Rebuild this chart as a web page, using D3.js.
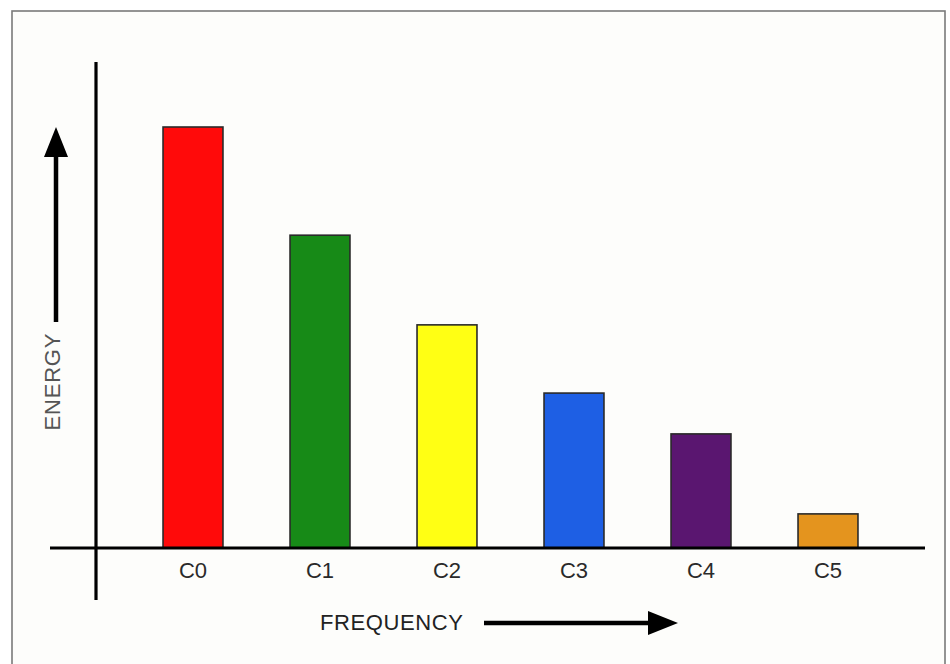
<!DOCTYPE html>
<html><head><meta charset="utf-8">
<script src="https://cdn.jsdelivr.net/npm/d3@7"></script>
<style>html,body{margin:0;padding:0;background:#fff;}svg{display:block;}</style>
</head><body>
<script>
const categories = ["C0","C1","C2","C3","C4","C5"];
const energy = [100, 74.3, 53, 36.8, 27.1, 8.1];
const barColors = ["#ff0a0a","#178a17","#ffff14","#1e5fe4","#5a1670","#e4941e"];
const xTitle = "FREQUENCY";
const yTitle = "ENERGY";

const W = 950, H = 664;
const svg = d3.select("body").append("svg").attr("width", W).attr("height", H);

// frame
svg.append("rect").attr("x", 12).attr("y", 11).attr("width", 933).attr("height", 700)
  .attr("fill", "#fdfdfb").attr("stroke", "#7a7a7a").attr("stroke-width", 1.6);

const x = d3.scaleBand().domain(categories).range([129.5, 891.5])
  .paddingInner(0.528).paddingOuter(0.264);
const y = d3.scaleLinear().domain([0, 100]).range([548, 127]);

// bars
svg.selectAll("rect.bar").data(categories).join("rect").attr("class", "bar")
  .attr("x", d => x(d)).attr("width", x.bandwidth())
  .attr("y", (d, i) => y(energy[i])).attr("height", (d, i) => y(0) - y(energy[i]))
  .attr("fill", (d, i) => barColors[i]).attr("stroke", "#2a2a2a").attr("stroke-width", 1.6);

// axes lines
svg.append("line").attr("x1", 96).attr("x2", 96).attr("y1", 62).attr("y2", 600)
  .attr("stroke", "#000").attr("stroke-width", 3.2);
svg.append("line").attr("x1", 50).attr("x2", 925).attr("y1", y(0)).attr("y2", y(0))
  .attr("stroke", "#000").attr("stroke-width", 3.2);

// category labels via axis
const xAxis = d3.axisBottom(x).tickSize(0).tickPadding(0);
const gx = svg.append("g").attr("transform", `translate(0,${y(0) + 14})`).call(xAxis);
gx.select(".domain").remove();
gx.attr("font-size", 22).attr("font-family", "Liberation Sans, Arial, sans-serif");
gx.selectAll("text").attr("font-family", "Liberation Sans, Arial, sans-serif")
  .attr("font-size", 22).attr("fill", "#2a2a2a").attr("dy", "0.71em");

// Energy title + arrow
svg.append("text").attr("transform", "translate(60,382) rotate(-90)")
  .attr("text-anchor", "middle").attr("font-family", "Liberation Sans, Arial, sans-serif")
  .attr("font-size", 22).attr("fill", "#555").attr("textLength", 97).text(yTitle);
svg.append("line").attr("x1", 56).attr("x2", 56).attr("y1", 322).attr("y2", 150)
  .attr("stroke", "#000").attr("stroke-width", 4.5);
svg.append("path").attr("d", "M56,127 L68,157 L44,157 Z").attr("fill", "#000");

// Frequency title + arrow
svg.append("text").attr("x", 320).attr("y", 630)
  .attr("font-family", "Liberation Sans, Arial, sans-serif")
  .attr("font-size", 22).attr("fill", "#222").attr("textLength", 143).text(xTitle);
svg.append("line").attr("x1", 484).attr("x2", 655).attr("y1", 623).attr("y2", 623)
  .attr("stroke", "#000").attr("stroke-width", 4.5);
svg.append("path").attr("d", "M678,623 L648,611 L648,635 Z").attr("fill", "#000");
</script>
</body></html>
